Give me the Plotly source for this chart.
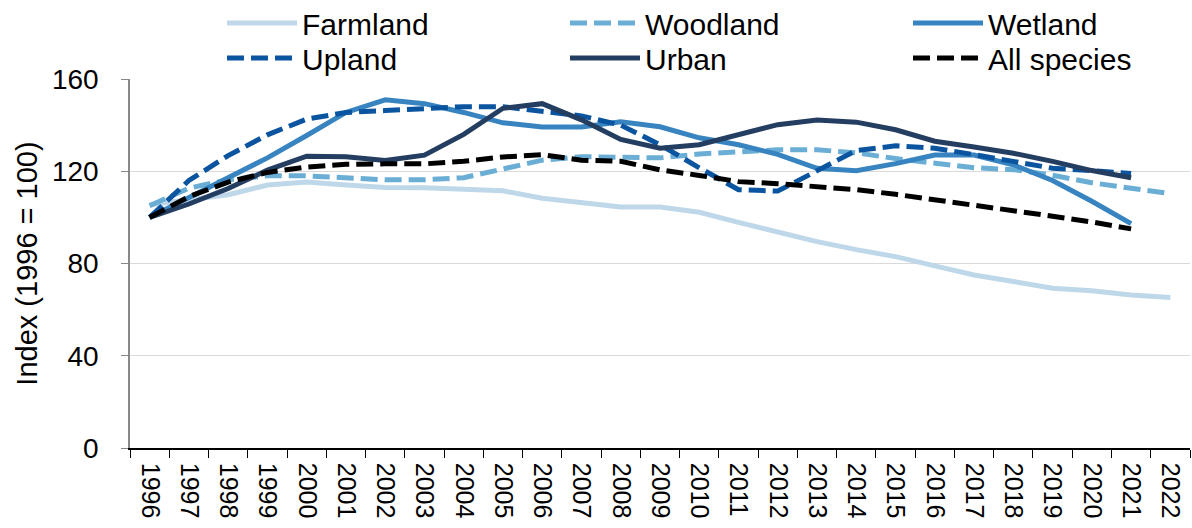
import plotly.graph_objects as go

# Years on the category axis
years = [str(y) for y in range(1996, 2023)]

# Bird population indices by habitat (1996 = 100)
farmland = [105.5, 107.6, 109.8, 114.0, 115.3, 114.0, 113.0, 112.8, 112.0, 111.5,
            108.3, 106.5, 104.5, 104.5, 102.2, 97.8, 93.5, 89.5, 86.0, 83.0,
            79.0, 75.0, 72.2, 69.3, 68.2, 66.3, 65.3]
woodland = [105.0, 112.7, 116.3, 118.0, 118.0, 117.0, 116.3, 116.3, 117.2, 121.0,
            124.8, 126.3, 126.3, 125.8, 127.5, 128.5, 129.3, 129.3, 128.0, 125.5,
            123.5, 121.5, 120.7, 118.3, 115.0, 112.4, 110.3]
wetland = [100.0, 108.5, 117.0, 125.8, 135.5, 145.5, 151.0, 149.3, 145.5, 141.0,
           139.2, 139.2, 141.5, 139.3, 134.5, 131.5, 127.3, 121.3, 120.2, 123.3,
           127.0, 127.0, 122.8, 116.0, 107.0, 97.3]
upland = [100.0, 116.0, 126.8, 135.8, 142.6, 145.5, 146.3, 147.0, 148.0, 148.0,
          146.0, 144.0, 140.0, 131.5, 121.5, 112.0, 111.4, 120.0, 129.0, 131.0,
          130.0, 127.2, 124.0, 121.3, 120.3, 119.0]
urban = [100.0, 105.8, 112.5, 120.5, 126.5, 126.3, 124.7, 127.0, 136.0, 147.3,
         149.3, 142.3, 133.8, 130.0, 131.5, 136.0, 140.2, 142.2, 141.3, 138.0,
         133.0, 130.5, 127.8, 124.3, 120.3, 117.2]
all_species = [100.0, 109.0, 115.3, 119.5, 121.8, 123.0, 123.2, 123.2, 124.3, 126.2,
               127.2, 124.8, 124.3, 120.6, 118.2, 115.5, 114.6, 113.4, 112.0, 110.0,
               107.7, 105.5, 102.7, 100.5, 98.0, 95.0]

FONT = "Liberation Sans, Arial, sans-serif"
LW = 5
DASH = "17px,7px"

W, H = 1192, 528
ML, MR, MT, MB = 130, 2, 79, 80
PW, PH = W - ML - MR, H - MT - MB

series = [
    ("Farmland", farmland, "#bfd8e9", "solid"),
    ("Woodland", woodland, "#6aaed6", DASH),
    ("Wetland", wetland, "#3784c0", "solid"),
    ("Upland", upland, "#0b54a0", DASH),
    ("Urban", urban, "#243e61", "solid"),
    ("All species", all_species, "#000000", DASH),
]

# one single-entry legend per series, laid out as a 3 x 2 grid above the plot
legend_cols_px = [222, 565, 908]
legend_rows_px = [23, 58]
legend_ids = ["legend", "legend2", "legend3", "legend4", "legend5", "legend6"]

fig = go.Figure()
legend_layout = {}
for i, (name, vals, color, dash) in enumerate(series):
    lid = legend_ids[i]
    fig.add_trace(go.Scatter(
        x=years[:len(vals)], y=vals, name=name, mode="lines",
        line=dict(color=color, width=LW, dash=dash),
        legend=lid,
    ))
    px_x = legend_cols_px[i % 3]
    px_y = legend_rows_px[i // 3]
    legend_layout[lid] = dict(
        orientation="v", xref="paper", yref="paper",
        x=(px_x - ML) / PW, y=(H - MB - px_y) / PH,
        xanchor="left", yanchor="middle",
        font=dict(family=FONT, size=30, color="#000000"),
        bgcolor="rgba(0,0,0,0)", itemwidth=70,
    )

fig.update_layout(
    width=W, height=H,
    margin=dict(l=ML, r=MR, t=MT, b=MB, autoexpand=False),
    paper_bgcolor="white", plot_bgcolor="white",
    font=dict(family=FONT, size=28, color="#000000"),
    showlegend=True,
    xaxis=dict(
        type="category", categoryorder="array", categoryarray=years,
        range=[-0.5, len(years) - 0.5],
        tickson="boundaries", ticks="outside", ticklen=8, tickcolor="#000000",
        showline=True, linecolor="#000000", linewidth=1.5,
        showgrid=False, tickangle=90, tickfont=dict(size=25),
        ticklabelstandoff=8, zeroline=False, automargin=False,
    ),
    yaxis=dict(
        range=[0, 160], dtick=40, tick0=0,
        showgrid=True, gridcolor="#d9d9d9", gridwidth=1,
        showline=True, linecolor="#888888", linewidth=1.5,
        ticks="outside", ticklen=7, tickcolor="#888888",
        tickfont=dict(size=28), ticklabelstandoff=17, zeroline=False,
        automargin=False,
        title=dict(text="Index (1996 = 100)", font=dict(size=29), standoff=6),
    ),
    **legend_layout,
)

fig.write_html("out.html")
